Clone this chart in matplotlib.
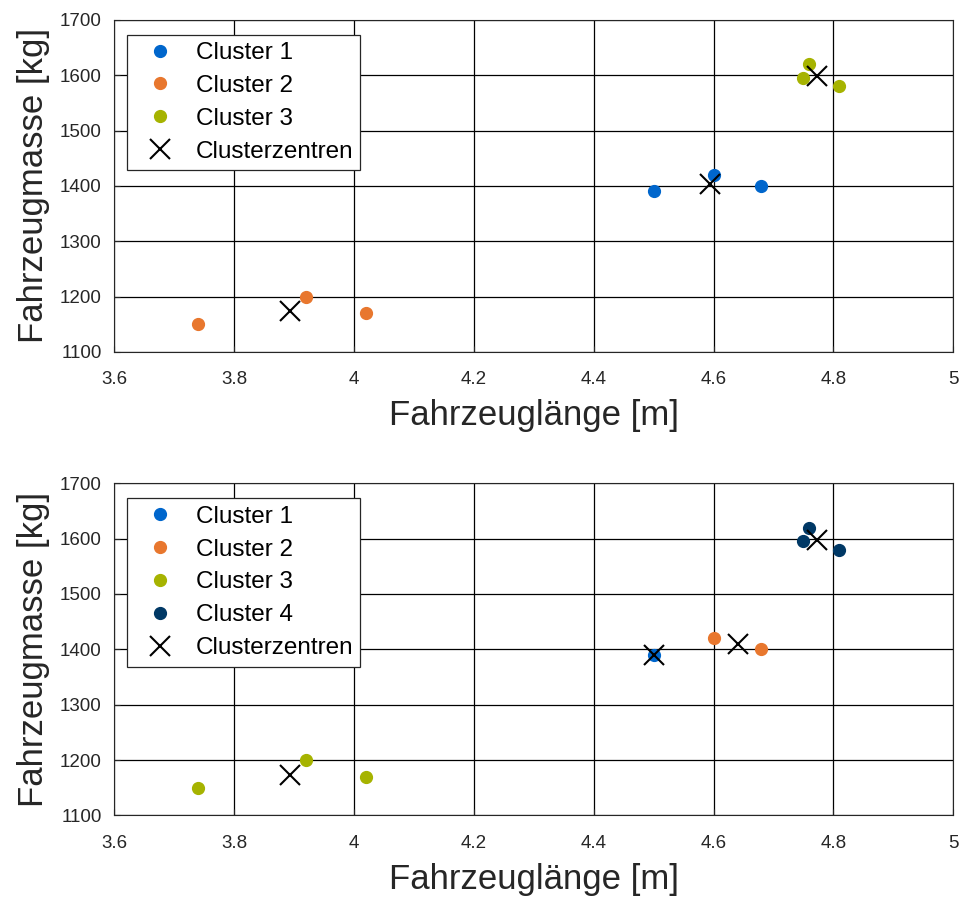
import matplotlib.pyplot as plt

plt.rcParams['font.family'] = ['Liberation Sans', 'DejaVu Sans']

# Datenpunkte (Fahrzeuglänge [m], Fahrzeugmasse [kg])
laenge = [4.5, 4.6, 4.68, 3.74, 3.92, 4.02, 4.75, 4.76, 4.81]
masse = [1390, 1420, 1400, 1150, 1200, 1170, 1595, 1620, 1580]

# Clusterzuordnung für k=3 und k=4
labels_k3 = [0, 0, 0, 1, 1, 1, 2, 2, 2]
labels_k4 = [0, 1, 1, 2, 2, 2, 3, 3, 3]

farben = ['#0066cc', '#e8772e', '#a6b300', '#003865']
xticks = [3.6, 3.8, 4, 4.2, 4.4, 4.6, 4.8, 5]
xticklabels = ['3.6', '3.8', '4', '4.2', '4.4', '4.6', '4.8', '5']
yticks = [1100, 1200, 1300, 1400, 1500, 1600, 1700]


def zentren(labels, k):
    cx, cy = [], []
    for c in range(k):
        xs = [laenge[i] for i in range(len(laenge)) if labels[i] == c]
        ys = [masse[i] for i in range(len(masse)) if labels[i] == c]
        cx.append(sum(xs) / len(xs))
        cy.append(sum(ys) / len(ys))
    return cx, cy


def plot_cluster(ax, labels, k):
    for c in range(k):
        xs = [laenge[i] for i in range(len(laenge)) if labels[i] == c]
        ys = [masse[i] for i in range(len(masse)) if labels[i] == c]
        ax.plot(xs, ys, 'o', color=farben[c], markersize=8.5, label=f'Cluster {c+1}',
                linestyle='none', zorder=3)
    cx, cy = zentren(labels, k)
    ax.plot(cx, cy, 'x', color='black', markersize=15, markeredgewidth=1.5,
            linestyle='none', label='Clusterzentren', zorder=4)

    ax.set_xlim(3.6, 5)
    ax.set_ylim(1100, 1700)
    ax.set_xticks(xticks)
    ax.set_xticklabels(xticklabels)
    ax.set_yticks(yticks)
    ax.grid(True, color='black', linewidth=0.9)
    ax.set_axisbelow(True)
    ax.tick_params(direction='in', length=4, labelsize=13.5, colors='#262626')
    ax.tick_params(axis='x', pad=14)
    ax.tick_params(axis='y', pad=9)
    for s in ax.spines.values():
        s.set_color('#262626')
    ax.set_xlabel('Fahrzeuglänge [m]', fontsize=25, color='#262626', labelpad=8)
    ax.set_ylabel('Fahrzeugmasse [kg]', fontsize=25, color='#262626', labelpad=7)
    leg = ax.legend(loc='upper left', bbox_to_anchor=(0.0155, 0.955), borderaxespad=0,
                    fontsize=17.5, fancybox=False, framealpha=1, edgecolor='#262626',
                    handletextpad=0.41, labelspacing=0.45, borderpad=0.3,
                    handlelength=2.1)
    leg.get_frame().set_linewidth(0.9)


fig = plt.figure(figsize=(9.6, 9), dpi=100)
ax1 = fig.add_axes([0.119, 0.609, 0.874, 0.369])
ax2 = fig.add_axes([0.119, 0.094, 0.874, 0.369])

plot_cluster(ax1, labels_k3, 3)
plot_cluster(ax2, labels_k4, 4)

fig.savefig('out.png', dpi=100)
